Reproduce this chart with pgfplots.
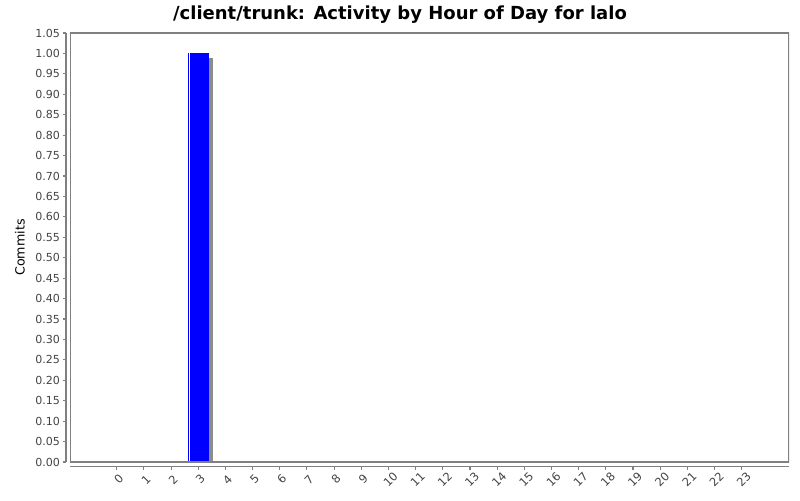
\documentclass[border=0pt]{standalone}
\usepackage{pgfplots}
\pgfplotsset{compat=1.18}
\usepackage{fontspec}
\setmainfont{DejaVu Sans}
\definecolor{axgray}{HTML}{808080}
\definecolor{txtgray}{HTML}{444444}
\begin{document}
\begin{tikzpicture}
\begin{axis}[
  scale only axis,
  width=539.25pt, height=321.75pt,
  axis lines=left,
  axis x line shift=3.2pt,
  axis y line shift=3pt,
  axis line style={draw=axgray, line width=0.9pt, -},
  xmin=-1.72, xmax=24.74,
  ymin=0, ymax=1.05,
  xtick={0,...,23},
  ytick={0,0.05,...,1.05},
  tick style={draw=axgray, line width=0.8pt},
  tick align=outside,
  major tick length=2.5pt,
  /pgf/number format/assume math mode=true,
  yticklabel={\pgfmathprintnumber[fixed,fixed zerofill,precision=2]{\tick}},
  ticklabel style={font=\fontsize{8.3}{9}\selectfont, text=txtgray},
  yticklabel style={xshift=1.5pt},
  xticklabel style={yshift=-7.4pt, xshift=1.5pt, rotate=45, anchor=center, font=\fontsize{8.6}{9}\selectfont},
  ylabel={Commits},
  ylabel style={font=\fontsize{9.5}{11}\selectfont, at={(axis description cs:-0.0695,0.5)}, anchor=center},
  ybar,
  bar width=0.773,
  clip=true,
]
\addplot[fill=gray!90, draw=none, bar shift=3pt] coordinates {(3,0.99)};
\addplot[fill=blue, draw=none, bar shift=0pt] coordinates {(3,1)};
\addplot[fill=white, draw=none, bar width=1.1pt, bar shift=-6.6pt] coordinates {(3,1)};
\draw[axgray, line width=0.8pt] (rel axis cs:0,0) rectangle (rel axis cs:1,1);
\end{axis}
\node[font=\bfseries\fontsize{13.5}{15}\selectfont] at (247.5pt,335.25pt) {/client/trunk: Activity by Hour of Day for lalo};
\pgfresetboundingbox
\useasboundingbox (-52.5pt,-28.5pt) rectangle (547.5pt,346.5pt);
\end{tikzpicture}
\end{document}
